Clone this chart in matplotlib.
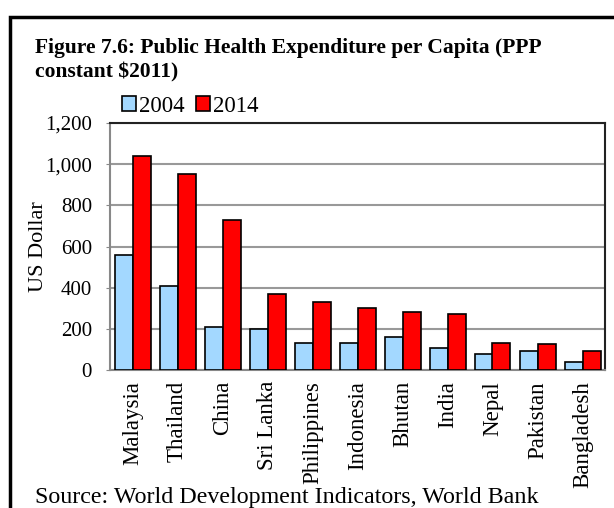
import numpy as np
import matplotlib.pyplot as plt
from matplotlib.patches import Rectangle

countries = ['Malaysia', 'Thailand', 'China', 'Sri Lanka', 'Philippines', 'Indonesia',
             'Bhutan', 'India', 'Nepal', 'Pakistan', 'Bangladesh']
y2004 = [559, 410, 210, 200, 132, 130, 161, 109, 80, 90, 38]
y2014 = [1041, 950, 731, 370, 331, 300, 281, 271, 130, 128, 90]
yticks = [0, 200, 400, 600, 800, 1000, 1200]

plt.rcParams['font.family'] = ['Liberation Serif', 'DejaVu Serif']

fig = plt.figure(figsize=(6.14, 5.08), dpi=100)
ax = fig.add_axes([110 / 614, 1 - 370 / 508, 495 / 614, 247 / 508])

x = np.arange(len(countries))
w = 0.4
ax.bar(x - w / 2, y2004, w, color='#a3d8ff', edgecolor='black', linewidth=1.2, label='2004', zorder=3)
ax.bar(x + w / 2, y2014, w, color='#ff0000', edgecolor='black', linewidth=1.2, label='2014', zorder=3)

ax.set_xlim(-0.5, len(countries) - 0.5)
ax.set_ylim(0, 1200)
ax.set_yticks(yticks)
ax.set_yticklabels([f'{v:,}' for v in yticks], fontsize=15)
ax.set_xticks(x)
ax.set_xticklabels(countries, rotation=90, fontsize=16.5)
ax.tick_params(axis='x', length=0, pad=8)
ax.tick_params(axis='y', length=3, color='#888888', pad=10)
ax.yaxis.grid(True, color='#999999', linewidth=1.5, zorder=0)
ax.set_ylabel('US Dollar', fontsize=16)
ax.yaxis.set_label_coords(-62 / 495, 0.5)

for s in ['left', 'bottom']:
    ax.spines[s].set_color('#888888')
    ax.spines[s].set_linewidth(1.5)
for s in ['top', 'right']:
    ax.spines[s].set_color('#222222')
    ax.spines[s].set_linewidth(1.5)

ax.legend(loc='center left', bbox_to_anchor=(12 / 495, 1 + 17 / 247), ncol=2, frameon=False,
          fontsize=16.5, handlelength=0.6, handleheight=0.6, handletextpad=0.15,
          columnspacing=0.5, borderaxespad=0, borderpad=0)

fig.text(35 / 614, 1 - 48 / 508, 'Figure 7.6: Public Health Expenditure per Capita (PPP',
         fontsize=15.5, fontweight='bold', va='center', ha='left')
fig.text(35 / 614, 1 - 72 / 508, 'constant $2011)',
         fontsize=15.5, fontweight='bold', va='center', ha='left')
fig.text(35 / 614, 1 - 497 / 508, 'Source: World Development Indicators, World Bank',
         fontsize=17.3, va='center', ha='left')

fig.patches.append(Rectangle((10 / 614, -0.1), 1.2, 1 - 17 / 508 + 0.1, transform=fig.transFigure,
                             fill=False, edgecolor='black', linewidth=2.5, clip_on=False))

fig.savefig('out.png', dpi=100)
